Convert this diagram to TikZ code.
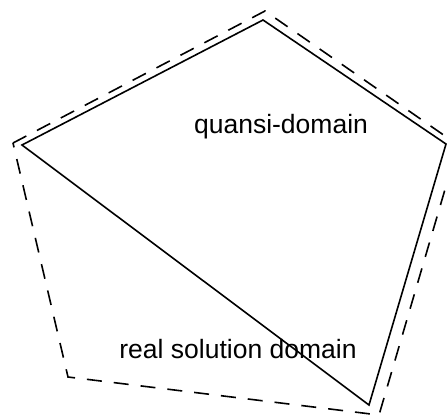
\documentclass[tikz,border=0pt]{standalone}
\usepackage{fontspec}
\setmainfont{Liberation Sans}
\usepackage{tikz}

\begin{document}
\begin{tikzpicture}[x=1pt,y=-1pt,line width=1.6pt,
  bound/.style={dash pattern=on 15pt off 12pt},
  lbl/.style={font=\fontsize{26.5}{30}\selectfont}]
\useasboundingbox (0,0) rectangle (447,416);
\clip (0,0) rectangle (447,416);

% quansi-domain (solid)
\coordinate (qa) at (22,145);
\coordinate (qb) at (263,20);
\coordinate (qc) at (446,144);
\coordinate (qd) at (369,405);

% real solution domain (dashed)
\coordinate (ra) at (13,143);
\coordinate (rb) at (265,11);
\coordinate (rc) at (458,145);
\coordinate (rd) at (379,415);
\coordinate (re) at (68,377);

\draw (qa) -- (qb) -- (qc) -- (qd) -- cycle;
\draw[bound] (ra) -- (rb) -- (rc) -- (rd) -- (re) -- cycle;

\node[lbl] (quasi) at (281,127) {quansi-domain};
\node[lbl] (real) at (238,349) {real solution domain};
\end{tikzpicture}
\end{document}
